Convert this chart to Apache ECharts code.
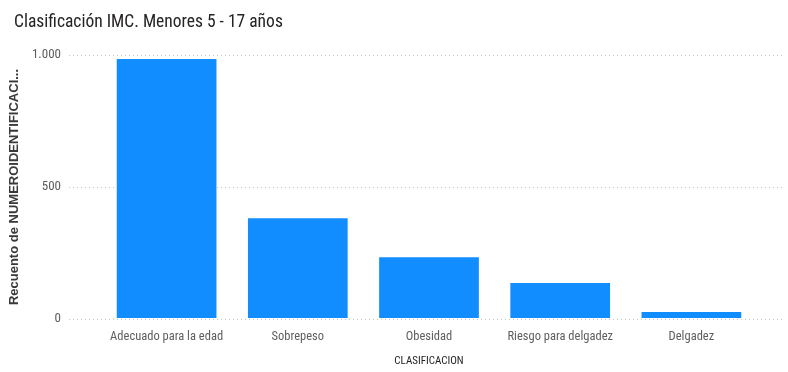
<!DOCTYPE html>
<html><head><meta charset="utf-8">
<script src="https://cdn.jsdelivr.net/npm/echarts@6/dist/echarts.min.js"></script>
<style>html,body{margin:0;padding:0;background:#fff}#c{width:788px;height:372px}</style>
</head><body><div id="c"></div>
<script>
const categories = ["Adecuado para la edad","Sobrepeso","Obesidad","Riesgo para delgadez","Delgadez"];
const counts = [985, 379, 231, 133, 23];
const yTicks = [0, 500, 1000];
const yMax = 1000;
const narrow = '"Liberation Sans Narrow","Roboto Condensed","DejaVu Sans Condensed",Roboto,sans-serif';
const chart = echarts.init(document.getElementById('c'));
chart.setOption({
  animation:false,
  title:{text:'Clasificación IMC. Menores 5 - 17 años',left:9,top:9,textStyle:{fontFamily:narrow,fontSize:17.5,fontWeight:'normal',color:'#252423'}},
  grid:[
    {left:62,right:4,top:55,bottom:53,containLabel:false},
    {left:101,right:31,top:55,bottom:53,containLabel:false}
  ],
  xAxis:[
    {gridIndex:0,type:'category',data:categories,show:false},
    {gridIndex:1,type:'category',data:categories,axisLine:{show:false},axisTick:{show:false},
     axisLabel:{interval:0,fontFamily:narrow,fontSize:12.5,color:'#605E5C',margin:12},
     name:'CLASIFICACION',nameLocation:'middle',nameGap:38,
     nameTextStyle:{fontFamily:narrow,fontSize:11,color:'#252423'}}
  ],
  yAxis:[
    {gridIndex:0,type:'value',min:0,max:yMax,interval:500,
     axisLine:{show:false},axisTick:{show:false},
     axisLabel:{fontFamily:narrow,fontSize:13,color:'#605E5C',margin:8,
       formatter:v=>yTicks.includes(v)?(v>=1000?String(v).replace(/\B(?=(\d{3})+(?!\d))/g,'.'):String(v)):''},
     splitLine:{show:true,lineStyle:{color:'#C8C6C4',type:[1,3],width:1}},
     name:'Recuento de NUMEROIDENTIFICACI...',nameLocation:'middle',nameGap:46,nameRotate:90,
     nameTextStyle:{fontFamily:'"Liberation Sans","DejaVu Sans",sans-serif',fontSize:13,fontWeight:600,color:'#3B3A39'}},
    {gridIndex:1,type:'value',min:0,max:yMax,show:false,splitLine:{show:false}}
  ],
  series:[{type:'bar',xAxisIndex:1,yAxisIndex:1,data:counts,barCategoryGap:'24%',itemStyle:{color:'#118DFF'}}]
});
</script></body></html>
